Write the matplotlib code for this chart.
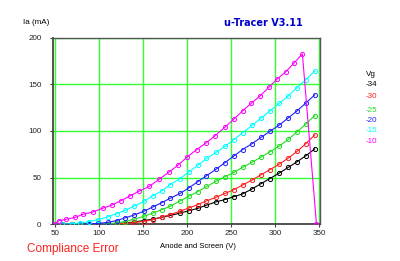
import matplotlib
matplotlib.use("Agg")
import matplotlib.pyplot as plt

# anode voltage (measured) for the -34 .. -15 sweeps
va = [48, 58, 69, 79, 89, 99, 110, 120, 130, 140, 151, 161, 171, 181, 192,
      202, 212, 222, 233, 243, 253, 263, 274, 284, 294, 305, 315, 325, 335, 345]

ia_34 = [0, 0, 0, 0, 0, 0, 0, 0.5, 1.5, 2.5, 4, 5.5, 7.5, 9.5, 12,
         14.5, 17, 20.5, 24, 26.5, 29.5, 32.5, 38, 43.5, 49, 55, 61, 67, 73.5, 80.7]
ia_30 = [0, 0, 0, 0, 0, 0, 0, 0.5, 1, 2, 3, 5, 7.5, 10.5, 14,
         17.5, 21, 25, 29, 33, 37, 42, 47.5, 53, 58.5, 64.5, 71, 78, 86.5, 95.7]
ia_25 = [0, 0, 0, 0, 0, 0, 0.5, 1.5, 3, 5.5, 8.5, 12, 15.5, 19.5, 25,
         30, 35, 40.5, 46, 51, 55.5, 61, 66.5, 72, 77.5, 84, 91, 99, 107.5, 116.4]
ia_20 = [0, 0, 0, 0, 0.5, 1, 2, 4, 7, 10, 14, 18.5, 23, 28, 33,
         39, 45.5, 52, 59, 66, 73, 80, 86.5, 93, 99.5, 106.5, 114, 121.5, 130, 138.6]
ia_15 = [0, 0, 0.5, 1.5, 3, 5, 8, 11.5, 15, 19.5, 24.5, 30.5, 35.5, 42.5, 49,
         56, 63, 70.5, 77, 83.5, 90.5, 98, 106, 113.6, 121.4, 129.7, 137.5, 146.4, 155, 164]

# -10 V sweep sags more and ends in a compliance error (last point 0 mA)
va_10 = [48, 55, 63, 73, 82, 93, 104, 115, 125, 135, 146, 157, 168, 179, 190,
         200, 211, 222, 232, 243, 253, 263, 273, 283, 293, 302, 312, 322, 331, 347]
ia_10 = [0, 3.9, 5.4, 7.5, 10.7, 13.2, 17.1, 20.7, 25.3, 30.3, 35.7, 40.5, 48, 55.5, 63.5,
         72, 80, 87.5, 95, 104, 112.5, 121.4, 129.7, 137.5, 146.8, 155.4, 163.2, 173.2, 182.5, 0]

vg_labels = ["-34", "-30", "-25", "-20", "-15", "-10"]
colors = ["#000000", "#ff2020", "#22dd22", "#2020ff", "#00ffff", "#ff00ff"]

xticks = [50, 100, 150, 200, 250, 300, 350]
yticks = [0, 50, 100, 150, 200]

plt.rcParams['font.family'] = ['Liberation Sans', 'DejaVu Sans']

fig = plt.figure(figsize=(4, 2.61), dpi=100)
ax = fig.add_axes([0.133, 0.1406, 0.667, 0.7154])

curves = [(va, ia_34), (va, ia_30), (va, ia_25), (va, ia_20), (va, ia_15), (va_10, ia_10)]
for (x, y), c in zip(curves, colors):
    ax.plot(x, y, color=c, lw=0.8, marker='o', ms=3, mfc='none', mew=0.7, zorder=3)

ax.set_xlim(48, 351)
ax.set_ylim(0, 200)
ax.set_xticks(xticks)
ax.set_yticks(yticks)
ax.grid(True, color='#33ff33', lw=1, zorder=1)
ax.tick_params(labelsize=5.8, length=2.5, width=0.8, color='#444444', colors='#222222')
ax.tick_params(axis='y', pad=6)
ax.tick_params(axis='x', pad=1.5)
for s in ['left', 'bottom']:
    ax.spines[s].set_color('#444444')
    ax.spines[s].set_linewidth(1.3)
for s in ['top', 'right']:
    ax.spines[s].set_color('#555555')
    ax.spines[s].set_linewidth(1)

fig.text(0.0917, 0.914, "Ia (mA)", fontsize=5.8, ha='center', va='center')
fig.text(0.658, 0.913, "u-Tracer V3.11", fontsize=7, color='#0000cc',
         fontweight='bold', family='DejaVu Sans', ha='center', va='center')
fig.text(0.495, 0.054, "Anode and Screen (V)", fontsize=5.5, ha='center', va='center')
fig.text(0.067, 0.046, "Compliance Error", fontsize=8.5, color='#ff2020', ha='left', va='center')

fig.text(0.915, 0.715, "Vg", fontsize=5.8, ha='left', va='center')
ys = [85, 96.7, 110, 120.7, 131, 141.7]
for lab, c, yp in zip(vg_labels, colors, ys):
    fig.text(0.915, 1 - yp / 261, lab, fontsize=5.8, color=c, ha='left', va='center')

fig.savefig("out.png", dpi=100)
